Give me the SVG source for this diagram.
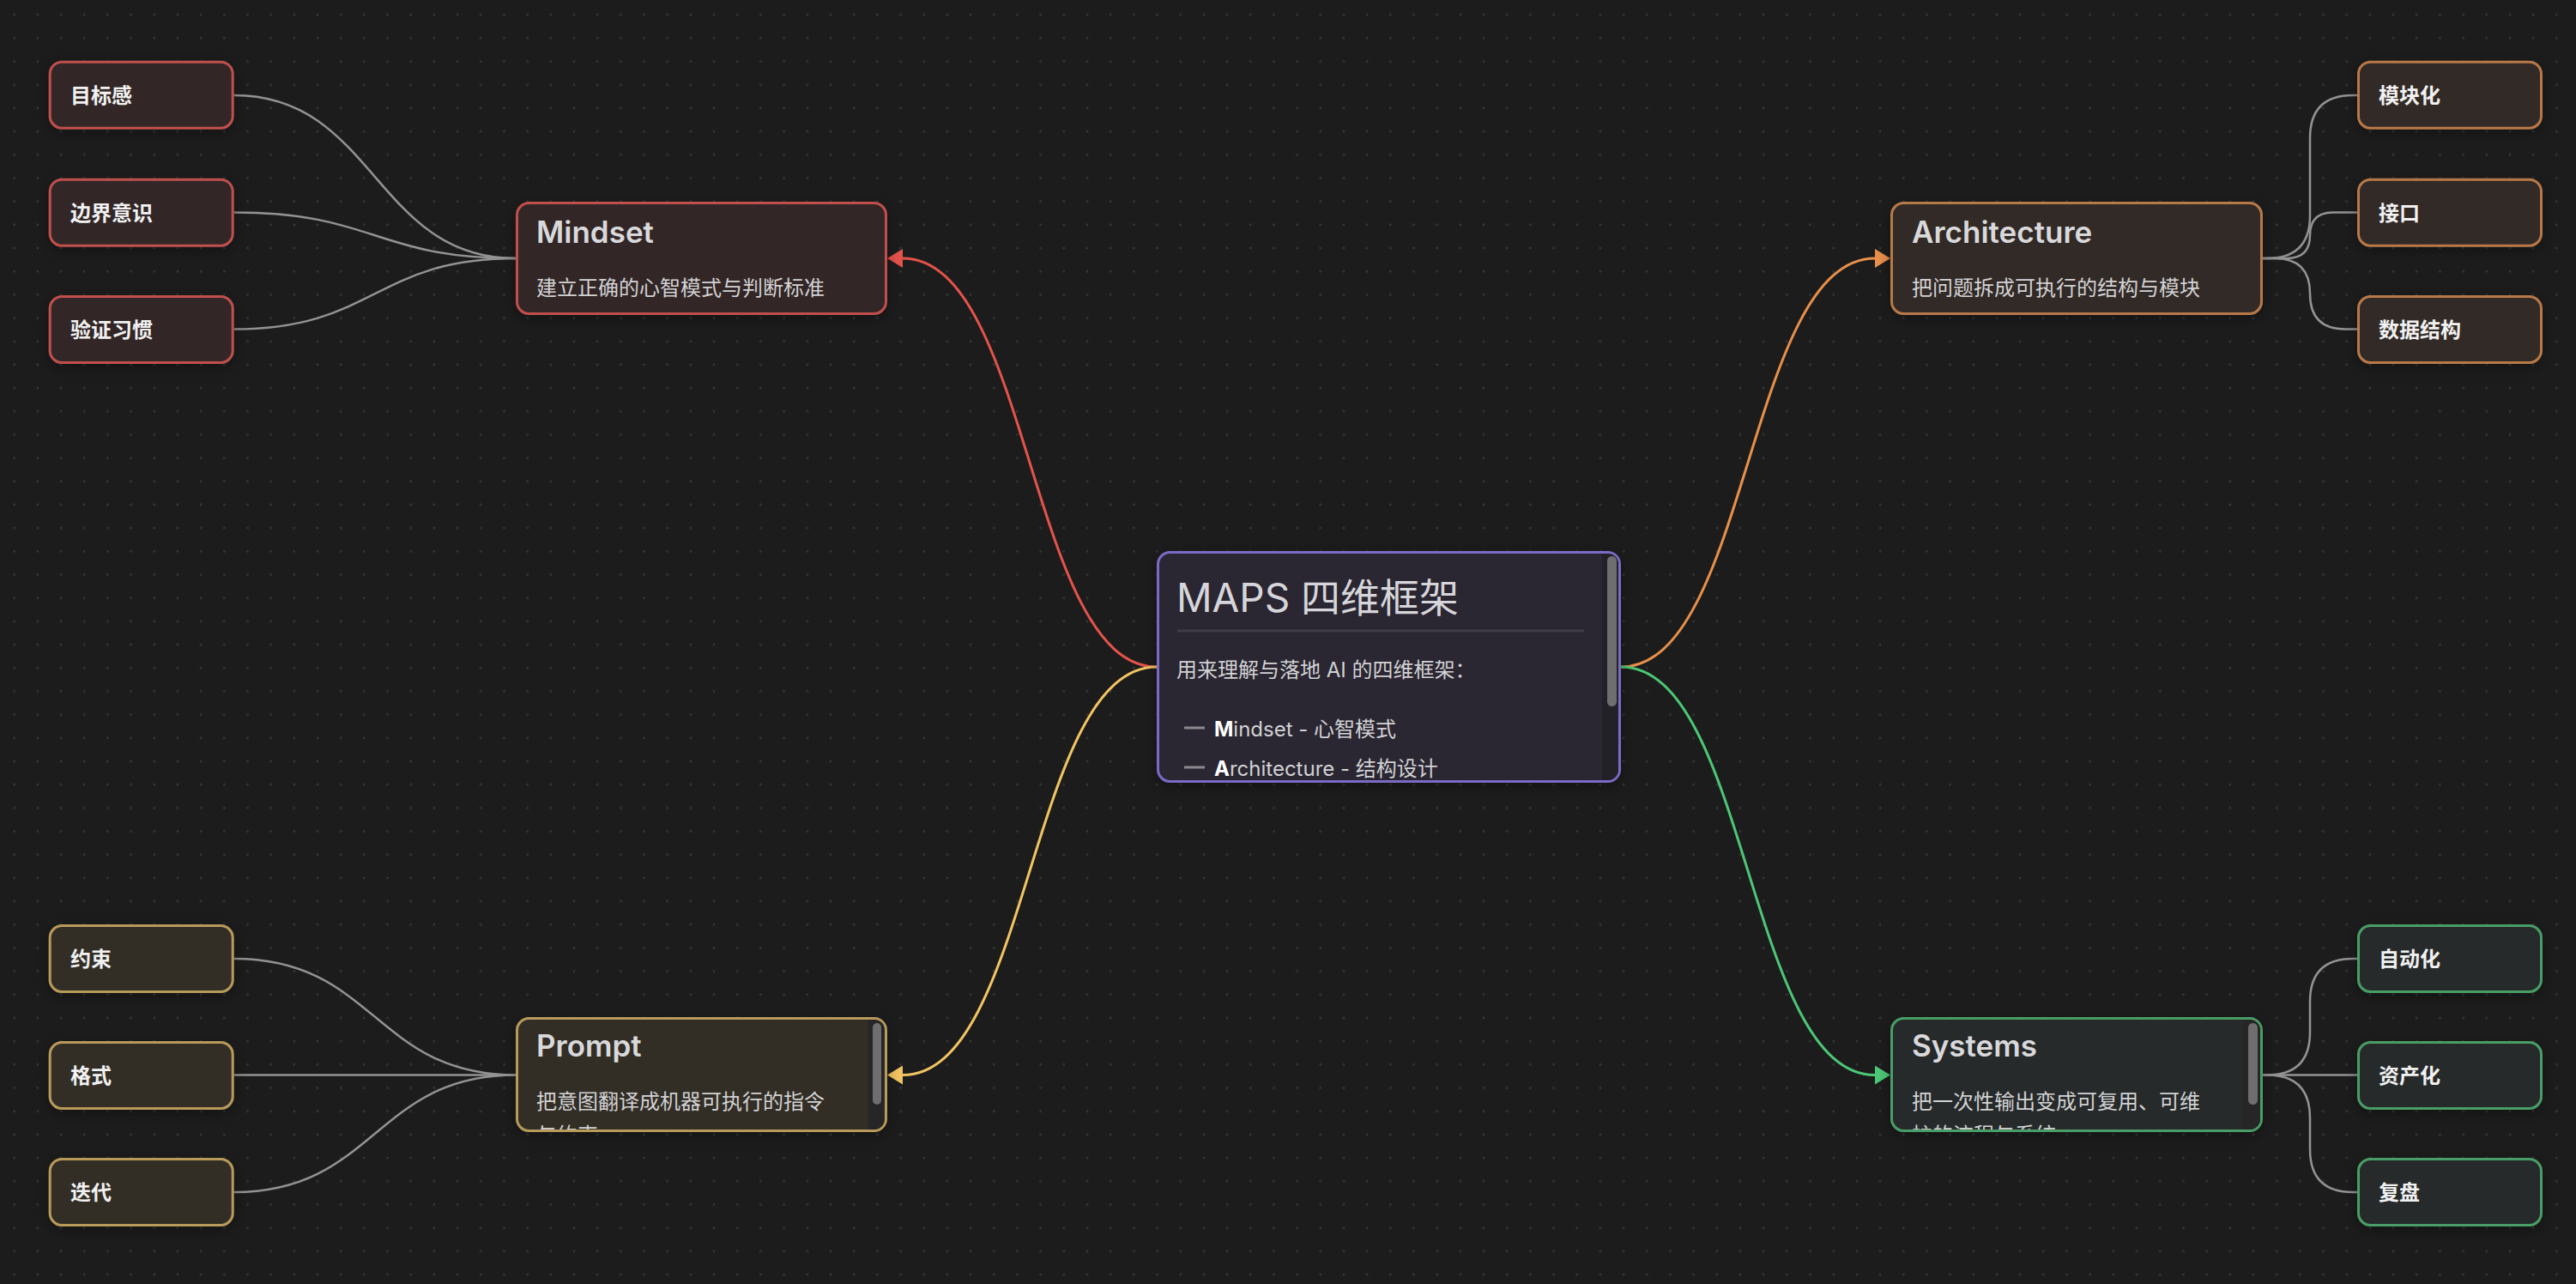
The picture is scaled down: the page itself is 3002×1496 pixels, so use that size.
<svg xmlns="http://www.w3.org/2000/svg" width="3002" height="1496" viewBox="0 0 3002 1496">
<defs>
<style>
.lt{font-family:Inter,"Noto Sans CJK SC",sans-serif;font-size:24px;font-weight:700;fill:#f1f1f1}
.tt{font-family:Inter,"Noto Sans CJK SC",sans-serif;font-size:35px;font-weight:600;fill:#d9d9dc}
.st{font-family:Inter,"Noto Sans CJK SC",sans-serif;font-size:24px;font-weight:400;fill:#d2d2d4}
.ct{font-family:Inter,"Noto Sans CJK SC",sans-serif;font-size:46px;font-weight:400;fill:#d6d6da}
.bt{font-family:Inter,"Noto Sans CJK SC",sans-serif;font-size:24px;font-weight:400;fill:#d2d2d4}
.bb{font-weight:700;fill:#ffffff}
.nr{stroke-width:3;filter:url(#sh)}
.red{fill:#312727;stroke:#c0504d}
.org{fill:#302a27;stroke:#b8794a}
.yel{fill:#312d27;stroke:#b89a5a}
.grn{fill:#272c29;stroke:#4a9d66}
.pur{fill:#2a2833;stroke:#7c6bc6}
.el{fill:none;stroke:#939393;stroke-width:2.5}
.em{fill:none;stroke-width:3}
.trk{fill:#262626}
.thm{fill:#6e6e6e}
</style>
<pattern id="dots" x="3.11" y="3.7" width="27.18" height="27.18" patternUnits="userSpaceOnUse">
<circle cx="13.59" cy="13.59" r="1.4" fill="#363636"/>
</pattern>
<filter id="sh" x="-20%" y="-30%" width="140%" height="160%">
<feDropShadow dx="0" dy="4" stdDeviation="8" flood-color="#000" flood-opacity="0.35"/>
</filter>
<marker id="mr" markerUnits="userSpaceOnUse" markerWidth="18" markerHeight="22" viewBox="0 0 18 22" refX="0" refY="11" orient="auto"><path d="M0,0 L18,11 L0,22 Z" fill="#e5534b"/></marker>
<marker id="mo" markerUnits="userSpaceOnUse" markerWidth="18" markerHeight="22" viewBox="0 0 18 22" refX="0" refY="11" orient="auto"><path d="M0,0 L18,11 L0,22 Z" fill="#e8904a"/></marker>
<marker id="my" markerUnits="userSpaceOnUse" markerWidth="18" markerHeight="22" viewBox="0 0 18 22" refX="0" refY="11" orient="auto"><path d="M0,0 L18,11 L0,22 Z" fill="#f2c462"/></marker>
<marker id="mg" markerUnits="userSpaceOnUse" markerWidth="18" markerHeight="22" viewBox="0 0 18 22" refX="0" refY="11" orient="auto"><path d="M0,0 L18,11 L0,22 Z" fill="#4cc776"/></marker>
<clipPath id="cpC"><rect x="1351" y="645" width="535" height="264" rx="12"/></clipPath>
<clipPath id="cpP"><rect x="604" y="1188" width="427" height="128" rx="12"/></clipPath>
<clipPath id="cpS"><rect x="2206" y="1188" width="428" height="128" rx="12"/></clipPath>
</defs>
<rect width="3002" height="1496" fill="#1c1c1c"/>
<rect width="3002" height="1496" fill="url(#dots)"/>

<g id="connectors">
<path class="em" stroke="#e5534b" marker-end="url(#mr)" d="M1348,777 C1200,777 1200,301 1052,301"/>
<path class="em" stroke="#f2c462" marker-end="url(#my)" d="M1348,777 C1200,777 1200,1252.5 1052,1252.5"/>
<path class="em" stroke="#e8904a" marker-end="url(#mo)" d="M1889,777 C2037,777 2037,301 2185,301"/>
<path class="em" stroke="#4cc776" marker-end="url(#mg)" d="M1889,777 C2037,777 2037,1252.5 2185,1252.5"/>
<path class="el" d="M272.7,111 C437,111 437,301 601,301"/>
<path class="el" d="M272.7,247.5 C437,247.5 437,301 601,301"/>
<path class="el" d="M272.7,383.5 C437,383.5 437,301 601,301"/>
<path class="el" d="M272.7,1117 C437,1117 437,1252.5 601,1252.5"/>
<path class="el" d="M272.7,1252.5 L601,1252.5"/>
<path class="el" d="M272.7,1389 C437,1389 437,1252.5 601,1252.5"/>
<path class="el" d="M2637,301 L2642,301 Q2692,301 2692,251 L2692,161 Q2692,111 2742,111 L2747,111"/>
<path class="el" d="M2637,301 L2665,301 Q2692,301 2692,274 L2692,274 Q2692,247.5 2719,247.5 L2747,247.5"/>
<path class="el" d="M2637,301 L2651,301 Q2692,301 2692,342 L2692,342 Q2692,383.5 2733,383.5 L2747,383.5"/>
<path class="el" d="M2637,1252.5 L2642,1252.5 Q2692,1252.5 2692,1202.5 L2692,1167 Q2692,1117 2742,1117 L2747,1117"/>
<path class="el" d="M2637,1252.5 L2747,1252.5"/>
<path class="el" d="M2637,1252.5 L2642,1252.5 Q2692,1252.5 2692,1302.5 L2692,1339 Q2692,1389 2742,1389 L2747,1389"/>
</g>

<g id="node-center">
<rect class="nr pur" x="1349.5" y="643.5" width="538" height="267" rx="14"/>
<g clip-path="url(#cpC)">
<text class="ct" x="1371" y="713">MAPS 四维框架</text>
<line x1="1372" y1="735" x2="1846" y2="735" stroke="#3e3c4a" stroke-width="3"/>
<text class="bt" x="1371" y="789">用来理解与落地 AI 的四维框架：</text>
<line x1="1380" y1="848" x2="1404" y2="848" stroke="#8a8a8e" stroke-width="3"/>
<text class="bt" x="1415" y="857.5"><tspan class="bb">M</tspan>indset - 心智模式</text>
<line x1="1380" y1="894" x2="1404" y2="894" stroke="#8a8a8e" stroke-width="3"/>
<text class="bt" x="1415" y="903.5"><tspan class="bb">A</tspan>rchitecture - 结构设计</text>
<rect x="1867" y="645" width="20" height="264" fill="#232128"/>
<rect class="thm" x="1873" y="648" width="11" height="175" rx="5.5"/>
</g>
</g>

<g id="node-mindset">
<rect class="nr red" x="602.5" y="236.5" width="430" height="129" rx="14"/>
<text class="tt" x="625" y="282.5">Mindset</text>
<text class="st" x="625" y="344">建立正确的心智模式与判断标准</text>
</g>

<g id="node-architecture">
<rect class="nr org" x="2204.5" y="236.5" width="431" height="129" rx="14"/>
<text class="tt" x="2228" y="282.5">Architecture</text>
<text class="st" x="2228" y="344">把问题拆成可执行的结构与模块</text>
</g>

<g id="node-prompt">
<rect class="nr yel" x="602.5" y="1186.5" width="430" height="131" rx="14"/>
<g clip-path="url(#cpP)">
<text class="tt" x="625" y="1231">Prompt</text>
<text class="st" x="625" y="1292">把意图翻译成机器可执行的指令</text>
<text class="st" x="625" y="1331">与约束</text>
<rect class="trk" x="1011.5" y="1188" width="19" height="129"/>
<rect class="thm" x="1017" y="1192" width="10" height="95" rx="5"/>
</g>
</g>

<g id="node-systems">
<rect class="nr grn" x="2204.5" y="1186.5" width="431" height="131" rx="14"/>
<g clip-path="url(#cpS)">
<text class="tt" x="2228" y="1231">Systems</text>
<text class="st" x="2228" y="1292">把一次性输出变成可复用、可维</text>
<text class="st" x="2228" y="1331">护的流程与系统</text>
<rect class="trk" x="2614" y="1188" width="20" height="129"/>
<rect class="thm" x="2620" y="1192" width="11" height="95" rx="5.5"/>
</g>
</g>

<g id="leaf-mubiaogan"><rect class="nr red" x="58.2" y="72.2" width="213" height="77" rx="14"/><text class="lt" x="82" y="120">目标感</text></g>
<g id="leaf-bianjieyishi"><rect class="nr red" x="58.2" y="209.2" width="213" height="77" rx="14"/><text class="lt" x="82" y="256.5">边界意识</text></g>
<g id="leaf-yanzhengxiguan"><rect class="nr red" x="58.2" y="345.5" width="213" height="77" rx="14"/><text class="lt" x="82" y="392.5">验证习惯</text></g>

<g id="leaf-mokuaihua"><rect class="nr org" x="2748.5" y="72.2" width="213" height="77" rx="14"/><text class="lt" x="2772" y="120">模块化</text></g>
<g id="leaf-jiekou"><rect class="nr org" x="2748.5" y="209.2" width="213" height="77" rx="14"/><text class="lt" x="2772" y="256.5">接口</text></g>
<g id="leaf-shujujiegou"><rect class="nr org" x="2748.5" y="345.5" width="213" height="77" rx="14"/><text class="lt" x="2772" y="392.5">数据结构</text></g>

<g id="leaf-yueshu"><rect class="nr yel" x="58.2" y="1078.5" width="213" height="77" rx="14"/><text class="lt" x="82" y="1126">约束</text></g>
<g id="leaf-geshi"><rect class="nr yel" x="58.2" y="1214.5" width="213" height="77" rx="14"/><text class="lt" x="82" y="1261.5">格式</text></g>
<g id="leaf-diedai"><rect class="nr yel" x="58.2" y="1350.5" width="213" height="77" rx="14"/><text class="lt" x="82" y="1398">迭代</text></g>

<g id="leaf-zidonghua"><rect class="nr grn" x="2748.5" y="1078.5" width="213" height="77" rx="14"/><text class="lt" x="2772" y="1126">自动化</text></g>
<g id="leaf-zichanhua"><rect class="nr grn" x="2748.5" y="1214.5" width="213" height="77" rx="14"/><text class="lt" x="2772" y="1261.5">资产化</text></g>
<g id="leaf-fupan"><rect class="nr grn" x="2748.5" y="1350.5" width="213" height="77" rx="14"/><text class="lt" x="2772" y="1398">复盘</text></g>
</svg>
